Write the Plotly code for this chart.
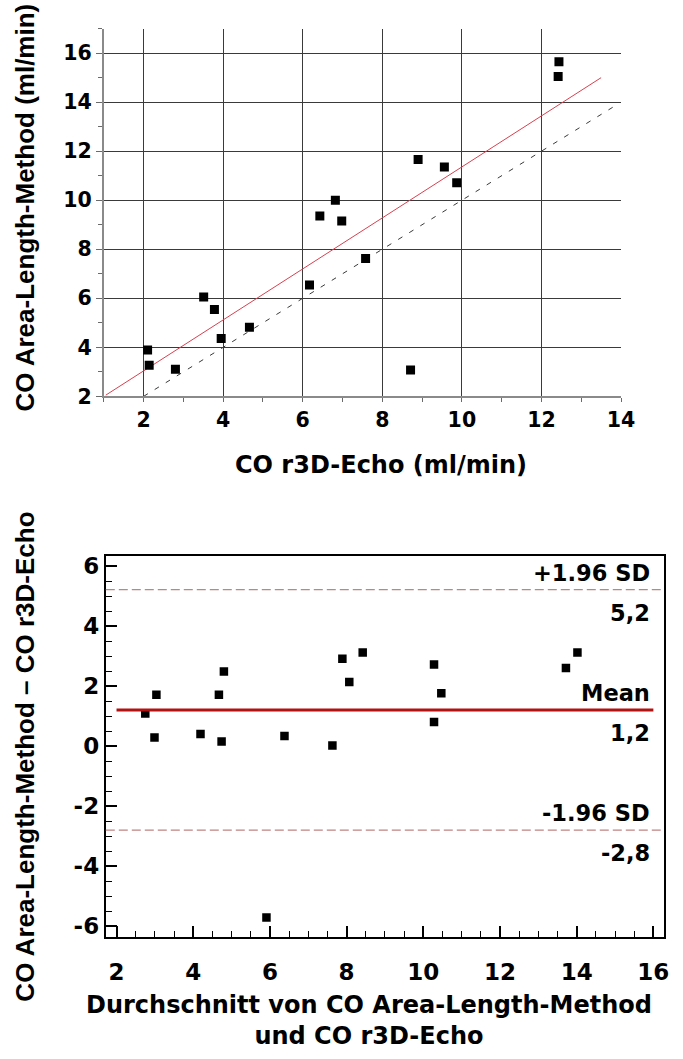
import plotly.graph_objects as go

# ---------------- Data: correlation plot ----------------
co_r3d_echo = [12.44, 12.42, 8.90, 9.56, 9.87, 6.82, 6.43, 6.98, 7.58, 6.17,
               3.51, 3.78, 3.95, 4.66, 2.10, 2.14, 2.80, 8.71]
co_area_length = [15.65, 15.05, 11.66, 11.36, 10.71, 10.00, 9.36, 9.15, 7.62, 6.54,
                  6.05, 5.54, 4.36, 4.82, 3.89, 3.27, 3.11, 3.07]
regression_x = [1.05, 13.5]
regression_y = [2.05, 15.0]
identity_x = [2.0, 13.9]
identity_y = [2.0, 13.9]
top_x_ticks = [2, 4, 6, 8, 10, 12, 14]
top_y_ticks = [2, 4, 6, 8, 10, 12, 14, 16]

# ---------------- Data: Bland-Altman plot ----------------
ba_average = [2.75, 2.99, 3.04, 4.19, 4.67, 4.74, 4.80, 5.91, 6.38, 7.63,
              7.89, 8.07, 8.42, 10.28, 10.28, 10.47, 13.72, 14.02]
ba_difference = [1.09, 0.29, 1.72, 0.41, 1.72, 0.16, 2.49, -5.70, 0.34, 0.03,
                 2.92, 2.14, 3.13, 2.73, 0.81, 1.77, 2.61, 3.13]
mean_diff = 1.21
upper_loa = 5.22
lower_loa = -2.79
loa_labels = ["+1.96 SD", "Mean", "-1.96 SD"]
ba_x_ticks = [2, 4, 6, 8, 10, 12, 14, 16]
ba_y_ticks = [-6, -4, -2, 0, 2, 4, 6]


def de_num(v):
    return f"{v:.1f}".replace(".", ",")


H_FONT = "DejaVu Sans, Liberation Sans, Arial, sans-serif"
V_FONT = "Liberation Sans, Arial, sans-serif"
W, H = 683, 1059

fig = go.Figure()

# top plot traces
fig.add_trace(go.Scatter(x=regression_x, y=regression_y, mode="lines",
                         line=dict(color="#d8404f", width=1),
                         xaxis="x", yaxis="y", showlegend=False, hoverinfo="skip"))
fig.add_trace(go.Scatter(x=identity_x, y=identity_y, mode="lines",
                         line=dict(color="#3a3a3a", width=1, dash="5px,8px"),
                         xaxis="x", yaxis="y", showlegend=False, hoverinfo="skip"))
fig.add_trace(go.Scatter(x=co_r3d_echo, y=co_area_length, mode="markers",
                         marker=dict(symbol="square", size=9, color="black"),
                         xaxis="x", yaxis="y", showlegend=False))

# bottom plot traces
fig.add_trace(go.Scatter(x=ba_average, y=ba_difference, mode="markers",
                         marker=dict(symbol="square", size=8.5, color="black"),
                         xaxis="x2", yaxis="y2", showlegend=False))

tick_font_top = dict(family=H_FONT, size=20.5, color="black", weight=700)
tick_font_bot = dict(family=H_FONT, size=23, color="black", weight=700)

fig.update_layout(
    width=W, height=H,
    margin=dict(l=0, r=0, t=0, b=0),
    paper_bgcolor="white", plot_bgcolor="white",
    showlegend=False,
    xaxis=dict(
        domain=[106 / W, 634 / W], anchor="y",
        range=[1, 14], tickmode="array", tickvals=top_x_ticks,
        ticktext=[str(v) for v in top_x_ticks],
        showgrid=True, gridcolor="#3a3a3a", gridwidth=1,
        showline=True, linecolor="#8a8a8a", linewidth=2,
        ticks="outside", ticklen=4, tickcolor="#6a6a6a",
        minor=dict(dtick=1, tick0=1, ticks="outside", ticklen=4,
                   tickcolor="#6a6a6a", showgrid=False),
        zeroline=False, tickfont=tick_font_top,
    ),
    yaxis=dict(
        domain=[1 - 399 / H, 1 - 26 / H], anchor="x",
        range=[2, 17], tickmode="array", tickvals=top_y_ticks,
        ticktext=[str(v) for v in top_y_ticks],
        showgrid=True, gridcolor="#3a3a3a", gridwidth=1,
        showline=True, linecolor="#8a8a8a", linewidth=2,
        ticks="outside", ticklen=6, tickcolor="#6a6a6a",
        minor=dict(dtick=1, tick0=1, ticks="outside", ticklen=4,
                   tickcolor="#6a6a6a", showgrid=False),
        zeroline=False, tickfont=tick_font_top,
    ),
    xaxis2=dict(
        domain=[108 / W, 678 / W], anchor="y2",
        range=[1.72, 16.28], tickmode="array", tickvals=ba_x_ticks,
        ticktext=[str(v) for v in ba_x_ticks],
        showgrid=False, showline=True, linecolor="black", linewidth=2,
        mirror=True,
        ticks="inside", ticklen=11, tickwidth=1.5, tickcolor="black",
        minor=dict(dtick=0.5, tick0=0, ticks="inside", ticklen=6,
                   tickwidth=1.2, tickcolor="black", showgrid=False),
        zeroline=False, tickfont=tick_font_bot, ticklabelstandoff=14,
    ),
    yaxis2=dict(
        domain=[1 - 947 / H, 1 - 561 / H], anchor="x2",
        range=[-6.34, 6.34], tickmode="array", tickvals=ba_y_ticks,
        ticktext=[str(v) for v in ba_y_ticks],
        showgrid=False, showline=True, linecolor="black", linewidth=2,
        mirror=True,
        ticks="inside", ticklen=11, tickwidth=1.5, tickcolor="black",
        minor=dict(dtick=0.5, tick0=0, ticks="inside", ticklen=6,
                   tickwidth=1.2, tickcolor="black", showgrid=False),
        zeroline=False, tickfont=tick_font_bot,
    ),
)

# mean / limits of agreement lines
fig.add_shape(type="line", xref="x2 domain", yref="y2", x0=0, x1=1,
              y0=upper_loa, y1=upper_loa,
              line=dict(color="#c08484", width=1.3, dash="9px,4px"))
fig.add_shape(type="line", xref="x2 domain", yref="y2", x0=0, x1=1,
              y0=lower_loa, y1=lower_loa,
              line=dict(color="#c08484", width=1.3, dash="9px,4px"))
fig.add_shape(type="line", xref="x2", yref="y2", x0=ba_x_ticks[0], x1=ba_x_ticks[-1],
              y0=mean_diff, y1=mean_diff,
              line=dict(color="#b31212", width=3))

label_font = dict(family=H_FONT, size=22.5, color="black", weight=700)
for name, val in zip(loa_labels, [upper_loa, mean_diff, lower_loa]):
    fig.add_annotation(text=name, xref="x2 domain", x=1, xshift=-12, xanchor="right",
                       yref="y2", y=val, yshift=17, yanchor="middle",
                       showarrow=False, font=label_font)
    fig.add_annotation(text=de_num(val), xref="x2 domain", x=1, xshift=-12, xanchor="right",
                       yref="y2", y=val, yshift=-23, yanchor="middle",
                       showarrow=False, font=label_font)

h_title_font = dict(family=H_FONT, size=24, color="black", weight=700)
v_title_font = dict(family=V_FONT, size=26, color="black", weight=700)
# axis titles
fig.add_annotation(text="CO r3D-Echo (ml/min)", xref="paper", yref="paper",
                   x=389 / W, y=1 - 469 / H, xanchor="center", yanchor="middle",
                   showarrow=False, font=h_title_font)
fig.add_annotation(text="CO Area-Length-Method (ml/min)", xref="paper", yref="paper",
                   x=26 / W, y=1 - 207 / H, xanchor="center", yanchor="middle",
                   textangle=-90, showarrow=False, font=v_title_font)
fig.add_annotation(text="CO Area-Length-Method \u2013 CO r3D-Echo", xref="paper", yref="paper",
                   x=26 / W, y=1 - 764 / H, xanchor="center", yanchor="middle",
                   textangle=-90, showarrow=False, font=v_title_font)
fig.add_annotation(text="Durchschnitt von CO Area-Length-Method<br>und CO r3D-Echo",
                   xref="paper", yref="paper",
                   x=377 / W, y=1 - 1032 / H, xanchor="center", yanchor="middle",
                   showarrow=False, font=h_title_font, align="center")

fig.write_html("out.html")
